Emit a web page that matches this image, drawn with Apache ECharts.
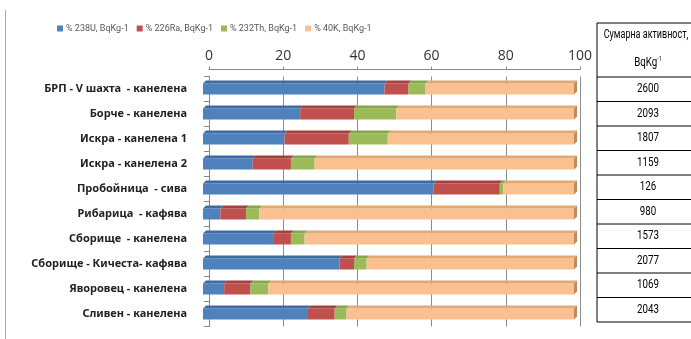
<!DOCTYPE html>
<html>
<head>
<meta charset="utf-8">
<script src="https://cdn.jsdelivr.net/npm/echarts@6/dist/echarts.min.js"></script>
<style>
  html, body { margin: 0; padding: 0; background: #fff; }
  #chart { width: 691px; height: 339px; }
</style>
</head>
<body>
<div id="chart"></div>
<script>
// categories, top to bottom
const sites = [
	"БРП - V шахта  - канелена",
	"Борче - канелена",
	"Искра - канелена 1",
	"Искра - канелена 2",
	"Пробойница  - сива",
	"Рибарица  - кафява",
	"Сборище  - канелена",
	"Сборище - Кичеста- кафява",
	"Яворовец - канелена",
	"Сливен - канелена",
];
// percentage shares
const u238 = [48.9, 26.2, 22.0, 13.4, 62.2, 4.7, 18.9, 36.8, 5.7, 28.3];
const ra226 = [6.5, 14.5, 17.3, 10.3, 17.8, 6.9, 4.8, 3.9, 7.1, 7.2];
const th232 = [4.6, 11.4, 10.5, 6.4, 0.9, 3.6, 3.7, 3.4, 4.8, 3.2];
const k40 = [40.0, 47.9, 50.2, 69.9, 19.1, 84.8, 72.6, 55.9, 82.4, 61.3];
// total activity column
const totals = [2600, 2093, 1807, 1159, 126, 980, 1573, 2077, 1069, 2043];
const xTicks = [0, 20, 40, 60, 80, 100];

const seriesNames = ["% 238U, BqKg-1", "% 226Ra, BqKg-1", "% 232Th, BqKg-1", "% 40K, BqKg-1"];
const seriesValues = [u238, ra226, th232, k40];
const colors = ["#4F81BD", "#C0504D", "#9BBB59", "#FAC08F"];
const topColors = ["#3D6CA3", "#A5403D", "#86A64A", "#E3A873"];
const sideColor = "#C08A5C";

const narrow = 'Roboto, sans-serif';

const chart = echarts.init(document.getElementById("chart"), null, { renderer: "canvas" });

// stacked starts computed from the values
const starts = seriesValues.map((vals, s) =>
	vals.map((v, i) => seriesValues.slice(0, s).reduce((a, arr) => a + arr[i], 0))
);

const makeSeries = (s) => ({
	type: "custom",
	name: seriesNames[s],
	itemStyle: { color: colors[s] },
	encode: { x: [0, 1], y: 2 },
	data: seriesValues[s].map((v, i) => [starts[s][i], starts[s][i] + v, i]),
	renderItem(params, api) {
		const a = api.coord([api.value(0), api.value(2)]);
		const b = api.coord([api.value(1), api.value(2)]);
		const h = 11, d = 3, ox = -6;
		const x0 = a[0] + ox, x1 = b[0] + ox;
		const y0 = a[1] - h / 2;
		const children = [
			{
				type: "rect",
				shape: { x: x0, y: y0, width: x1 - x0, height: h },
				style: { fill: colors[s] },
			},
			{
				type: "polygon",
				shape: { points: [[x0, y0], [x0 + d, y0 - d], [x1 + d, y0 - d], [x1, y0]] },
				style: { fill: topColors[s] },
			},
		];
		if (s === seriesValues.length - 1) {
			children.push({
				type: "polygon",
				shape: { points: [[x1, y0], [x1 + d, y0 - d], [x1 + d, y0 + h - d], [x1, y0 + h]] },
				style: { fill: sideColor },
			});
		}
		return { type: "group", children };
	},
});

// table on the right
const tblLeft = 597, tblTop = 23, tblHead = 77, rowH = 24.5;
const cellText = (text, x, y, size, sx, extra) => ({
	type: "text",
	x, y,
	scaleX: sx,
	style: Object.assign({ text, font: size + "px " + narrow, fill: "#000", align: "center", verticalAlign: "middle" }, extra || {}),
});
const tableGraphics = [
	{
		type: "rect",
		shape: { x: tblLeft, y: tblTop, width: 120, height: tblHead - tblTop + rowH * totals.length },
		style: { fill: "none", stroke: "#000", lineWidth: 1 },
	},
	cellText("Сумарна активност,", 646, 35, 12.5, 0.72),
	cellText("BqKg{sup|-1}", 648, 63, 12.5, 0.78, {
		rich: { sup: { fontSize: 7, verticalAlign: "top", padding: [0, 0, 8, 0], fontFamily: narrow } },
	}),
];
totals.forEach((t, i) => {
	const y = tblHead + rowH * i;
	tableGraphics.push({
		type: "line",
		shape: { x1: tblLeft, y1: y, x2: 691, y2: y },
		style: { stroke: "#000", lineWidth: 1 },
	});
	tableGraphics.push(cellText(String(t), 648, y + rowH / 2, 12.5, 0.78));
});

const option = {
	backgroundColor: "#fff",
	animation: false,
	legend: {
		left: 52,
		top: 19,
		icon: "rect",
		itemWidth: 6,
		itemHeight: 6,
		itemGap: 8,
		textStyle: { fontSize: 9, color: "#595959", fontFamily: narrow, padding: [0, 0, 0, -2] },
		data: seriesNames,
	},
	grid: { left: 209, right: 111, top: 76.5, bottom: 12.5 },
	xAxis: {
		type: "value",
		position: "top",
		min: xTicks[0],
		max: xTicks[xTicks.length - 1],
		interval: 20,
		offset: 7,
		axisLine: { show: true, lineStyle: { color: "#888" } },
		axisTick: { show: true, length: 3, lineStyle: { color: "#888" } },
		axisLabel: { fontSize: 14, color: "#333", margin: 6, fontFamily: '"Open Sans", sans-serif' },
		splitLine: { show: true, lineStyle: { color: "#8c8c8c" } },
	},
	yAxis: {
		type: "category",
		inverse: true,
		data: sites,
		offset: 6,
		axisLine: { show: true, lineStyle: { color: "#888" } },
		axisTick: { show: true, length: 5, lineStyle: { color: "#888" } },
		axisLabel: { fontSize: 11, fontWeight: "bold", color: "#222", margin: 16, fontFamily: '"Noto Sans", sans-serif' },
	},
	graphic: [
		{ type: "line", shape: { x1: 5.5, y1: 10, x2: 5.5, y2: 339 }, style: { stroke: "#aaa", lineWidth: 1 } },
		...tableGraphics,
	],
	series: seriesValues.map((v, s) => makeSeries(s)),
};

chart.setOption(option);
</script>
</body>
</html>
